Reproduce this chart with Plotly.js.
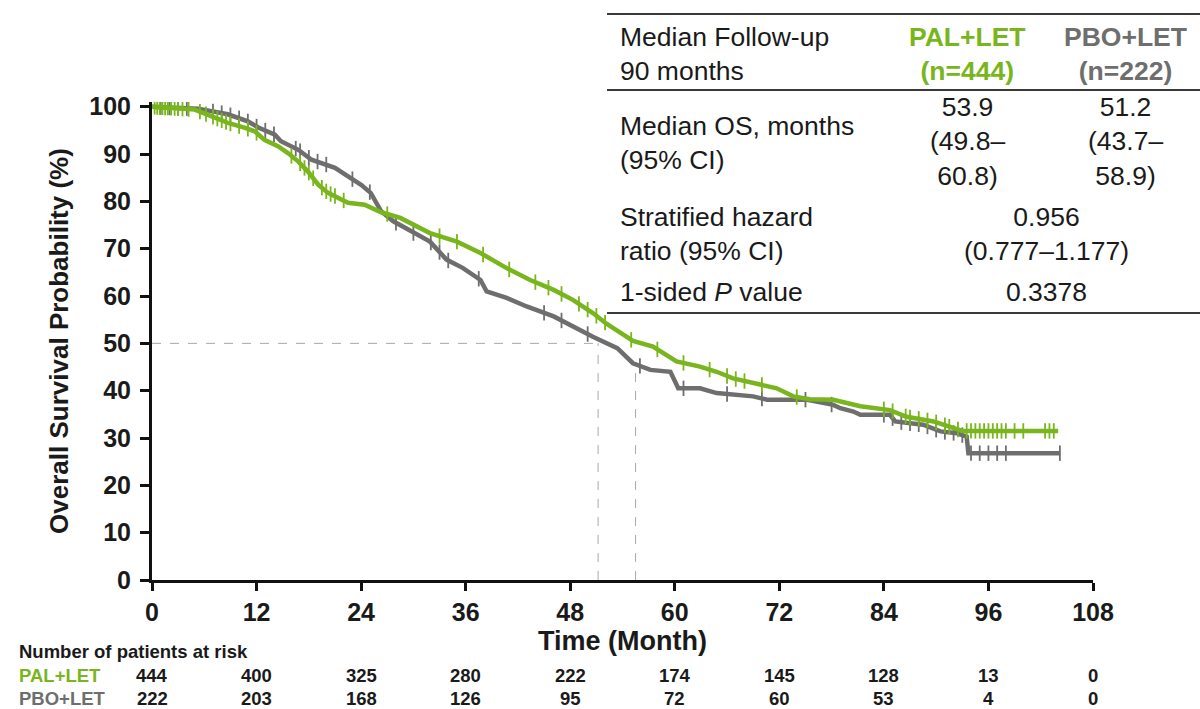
<!DOCTYPE html>
<html>
<head>
<meta charset="utf-8">
<script src="https://cdn.plot.ly/plotly-3.0.1.min.js"></script>
<style>html,body{margin:0;padding:0;background:#fff}#chart{width:1200px;height:709px}</style>
</head>
<body>
<div id="chart"></div>
<script>
// ---- Data ----
const palMonths = [0, 2, 4.9, 6.8, 8.7, 10.6, 11.8, 12.9, 14.5, 15.6, 16.8, 17.9, 19.1, 20.2, 21.4, 22.5, 24.4, 26.3, 28.5, 31.9, 35, 37.7, 40.7, 43.4, 46.1, 48.3, 50.6, 52.2, 53.7, 55.2, 57.5, 60.2, 62.9, 64.8, 66.7, 69, 71.7, 73.6, 75.5, 78.2, 80.1, 81.3, 84.7, 86.6, 89.7, 92, 93, 104];
const palOS     = [100, 99.8, 99.4, 98, 96.6, 95.6, 94.8, 93, 91.6, 90.2, 88.4, 86.3, 83.5, 81.8, 80.8, 79.7, 79.3, 77.7, 76.5, 73.3, 71.5, 69.1, 65.9, 63.4, 61.3, 59.2, 56.4, 54.1, 52.3, 50.5, 49.3, 46.2, 45.1, 44, 42.6, 41.6, 40.5, 38.8, 38.2, 38.1, 37.3, 36.7, 35.9, 34.5, 33.5, 32.1, 31.5, 31.5];
const palCensor = [0.3, 0.6, 0.9, 1.2, 1.5, 1.8, 2.2, 2.6, 3, 3.5, 4.2, 5.5, 6.2, 7, 7.5, 8, 8.5, 9, 10, 11, 12, 16, 17, 17.5, 18, 18.5, 19.5, 20, 20.5, 21, 22, 27, 33, 35, 38, 41, 44, 45.5, 47, 49, 50, 51, 52, 55, 58, 61, 64, 66, 67, 68, 70, 74, 84, 85, 86.5, 87, 88, 89, 90, 91, 91.5, 92.5, 93.5, 94, 94.5, 95, 95.5, 96, 96.5, 97, 97.5, 98, 99, 100, 102.5, 103, 103.5];

const pboMonths = [0, 5.3, 8.7, 11, 12.2, 14.1, 14.8, 16.8, 18.3, 19.4, 21, 22.5, 24, 25.1, 25.9, 26.3, 27.7, 30, 31.9, 33.8, 35.7, 37.7, 38.4, 40.7, 43, 46.1, 48.3, 50.6, 53.4, 55.2, 57.2, 59.5, 60.4, 62.9, 64.8, 69, 70.6, 75.2, 78.2, 79, 80.5, 81.3, 84.7, 85.3, 88.5, 90.5, 92.4, 93.5, 93.7, 104.2];
const pboOS     = [100, 99.6, 98.4, 96.9, 95.6, 94.1, 92.7, 90.9, 88.8, 88.2, 87.1, 85.3, 83.5, 81.8, 79.3, 77.9, 75.8, 73.3, 71.5, 67.7, 65.9, 63.4, 61, 59.6, 57.8, 55.7, 53.6, 51.4, 49, 45.8, 44.4, 44, 40.5, 40.5, 39.5, 38.8, 38.1, 38.1, 37, 36.3, 35.6, 34.9, 34.9, 33.5, 32.8, 31.4, 31, 30.3, 26.8, 26.8];
const pboCensor = [1, 2, 3, 4, 7, 8, 9, 10, 11, 12, 13, 14, 16.5, 17, 18, 19, 20, 23, 25, 28, 30, 32, 33, 34, 37.5, 45, 47, 50, 56, 61, 66, 70, 75, 78, 84, 85, 86, 87, 88, 89, 90, 91, 92, 93, 94, 95, 96, 97, 98, 104.2];

const medianMonths = [51.2, 55.5];   // positions of the dashed median drop lines
const medianTopOS  = [50, 46];

const riskTimes = [0, 12, 24, 36, 48, 60, 72, 84, 96, 108];
const palRisk = [444, 400, 325, 280, 222, 174, 145, 128, 13, 0];
const pboRisk = [222, 203, 168, 126, 95, 72, 60, 53, 4, 0];

const xTicks = [0, 12, 24, 36, 48, 60, 72, 84, 96, 108];
const yTicks = [0, 10, 20, 30, 40, 50, 60, 70, 80, 90, 100];

const armNames = ['PAL+LET', 'PBO+LET'];
const armN = [444, 222];
const medianOS = ['53.9', '51.2'];
const medianCI = [['49.8', '60.8'], ['43.7', '58.9']];
const hazardRatio = '0.956';
const hazardCI = ['0.777', '1.177'];
const pValue = '0.3378';
const followUp = 90;

// ---- Styling ----
const GREEN = '#79b51c';
const GRAY = '#6e6e6e';
const FONT = 'Liberation Sans, Arial, Helvetica, sans-serif';
const W = 1200, H = 709;
const L = 152, R = 1093, T = 102, B = 580;
const px = p => (p - L) / (R - L);
const py = p => (B - p) / (B - T);

function interp(xs, ys, t) {
  if (t <= xs[0]) return ys[0];
  for (let i = 1; i < xs.length; i++) {
    if (t <= xs[i]) {
      const f = (t - xs[i - 1]) / (xs[i] - xs[i - 1] || 1);
      return ys[i - 1] + f * (ys[i] - ys[i - 1]);
    }
  }
  return ys[ys.length - 1];
}

const traces = [
  {x: pboMonths, y: pboOS, type: 'scatter', mode: 'lines', name: armNames[1],
   line: {color: GRAY, width: 4.5, shape: 'linear'}, hoverinfo: 'skip'},
  {x: pboCensor, y: pboCensor.map(t => interp(pboMonths, pboOS, t)), type: 'scatter', mode: 'markers',
   name: armNames[1] + ' censored',
   marker: {symbol: 'line-ns', size: 11, color: GRAY, line: {color: GRAY, width: 1.8}}, hoverinfo: 'skip'},
  {x: palMonths, y: palOS, type: 'scatter', mode: 'lines', name: armNames[0],
   line: {color: GREEN, width: 4.5, shape: 'linear'}, hoverinfo: 'skip'},
  {x: palCensor, y: palCensor.map(t => interp(palMonths, palOS, t)), type: 'scatter', mode: 'markers',
   name: armNames[0] + ' censored',
   marker: {symbol: 'line-ns', size: 11, color: GREEN, line: {color: GREEN, width: 1.8}}, hoverinfo: 'skip'}
];

const shapes = [];
const dashLine = {color: '#a8a8a8', width: 1, dash: 'dash'};
shapes.push({type: 'line', xref: 'x', yref: 'y', x0: 0, x1: medianMonths[0], y0: 50, y1: 50, line: dashLine, layer: 'below'});
medianMonths.forEach((m, i) => {
  shapes.push({type: 'line', xref: 'x', yref: 'y', x0: m, x1: m, y0: 0, y1: medianTopOS[i], line: dashLine, layer: 'below'});
});
// table rules
[14, 90, 313].forEach(yy => {
  shapes.push({type: 'line', xref: 'paper', yref: 'paper', x0: px(607), x1: px(1200), y0: py(yy), y1: py(yy),
    line: {color: '#3a3a3a', width: 2}});
});

const ann = [];
const tf = (size, color) => ({family: FONT, size: size, color: color || '#1a1a1a'});
function addText(text, xp, yp, xanchor, font, align) {
  ann.push({text: text, xref: 'paper', yref: 'paper', x: px(xp), y: py(yp), xanchor: xanchor, yanchor: 'middle',
    showarrow: false, font: font, align: align || xanchor});
}
const TS = 26.5;
const C1 = 967, C2 = 1125, CM = 1046;
// table
addText('Median Follow-up<br>' + followUp + ' months', 618, 54, 'left', tf(TS));
addText('<b>' + armNames[0] + '<br>(n=' + armN[0] + ')</b>', C1, 54, 'center', tf(TS, GREEN));
addText('<b>' + armNames[1] + '<br>(n=' + armN[1] + ')</b>', C2, 54, 'center', tf(TS, GRAY));
addText('Median OS, months<br>(95% CI)', 618, 143, 'left', tf(TS));
addText(medianOS[0] + '<br>(' + medianCI[0][0] + '–<br>' + medianCI[0][1] + ')', C1, 141, 'center', tf(TS));
addText(medianOS[1] + '<br>(' + medianCI[1][0] + '–<br>' + medianCI[1][1] + ')', C2, 141, 'center', tf(TS));
addText('Stratified hazard<br>ratio (95% CI)', 618, 234, 'left', tf(TS));
addText(hazardRatio + '<br>(' + hazardCI[0] + '–' + hazardCI[1] + ')', CM, 234, 'center', tf(TS));
addText('1-sided <i>P</i> value', 618, 292, 'left', tf(TS));
addText(pValue, CM, 292, 'center', tf(TS));
// risk table
const RS = 18.5;
addText('<b>Number of patients at risk</b>', 17, 651, 'left', tf(RS));
addText('<b>' + armNames[0] + '</b>', 17, 675, 'left', tf(RS, GREEN));
addText('<b>' + armNames[1] + '</b>', 17, 698, 'left', tf(RS, GRAY));
riskTimes.forEach((t, i) => {
  ann.push({text: '<b>' + palRisk[i] + '</b>', xref: 'x', yref: 'paper', x: t, y: py(675), xanchor: 'center', yanchor: 'middle', showarrow: false, font: tf(RS)});
  ann.push({text: '<b>' + pboRisk[i] + '</b>', xref: 'x', yref: 'paper', x: t, y: py(698), xanchor: 'center', yanchor: 'middle', showarrow: false, font: tf(RS)});
});

const layout = {
  width: W, height: H,
  margin: {l: L, r: W - R, t: T, b: H - B, pad: 0},
  paper_bgcolor: '#fff', plot_bgcolor: '#fff',
  showlegend: false,
  font: {family: FONT, color: '#1a1a1a'},
  xaxis: {
    range: [0, 108], tickvals: xTicks, ticktext: xTicks.map(String),
    showline: true, linecolor: '#111', linewidth: 3, mirror: false,
    ticks: 'outside', ticklen: 8, tickwidth: 3, tickcolor: '#111',
    tickfont: {family: FONT, size: 25, color: '#1a1a1a', weight: 'bold'},
    ticklabelstandoff: 0,
    showgrid: false, zeroline: false, automargin: false,
    title: {text: 'Time (Month)', font: {family: FONT, size: 27, color: '#1a1a1a', weight: 'bold'}, standoff: 0}
  },
  yaxis: {
    range: [0, 101], tickvals: yTicks, ticktext: yTicks.map(String),
    showline: true, linecolor: '#111', linewidth: 3,
    ticks: 'outside', ticklen: 9, tickwidth: 3, tickcolor: '#111',
    tickfont: {family: FONT, size: 25, color: '#1a1a1a', weight: 'bold'},
    ticklabelstandoff: 4,
    showgrid: false, zeroline: false, automargin: false,
    title: {text: 'Overall Survival Probability (%)', font: {family: FONT, size: 26, color: '#1a1a1a', weight: 'bold'}, standoff: 14}
  },
  shapes: shapes,
  annotations: ann
};

Plotly.newPlot('chart', traces, layout, {staticPlot: true, displayModeBar: false});
</script>
</body>
</html>
